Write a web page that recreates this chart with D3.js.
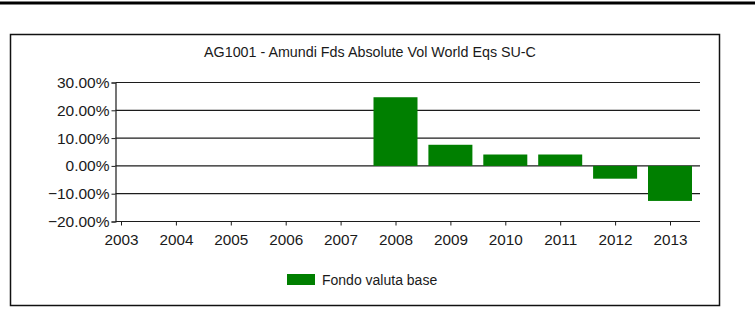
<!DOCTYPE html>
<html>
<head>
<meta charset="utf-8">
<script src="https://cdn.jsdelivr.net/npm/d3@7"></script>
<style>
  html, body { margin: 0; padding: 0; background: #fff; }
  svg { display: block; }
  text { font-family: "Liberation Sans", Arial, sans-serif; fill: #1a1a1a; }
</style>
</head>
<body>
<svg id="chart" width="755" height="332"></svg>
<script>
const title = "AG1001 - Amundi Fds Absolute Vol World Eqs SU-C";
const years = ["2003","2004","2005","2006","2007","2008","2009","2010","2011","2012","2013"];
const fundReturns = [null, null, null, null, null, 24.7, 7.6, 4.1, 4.1, -4.6, -12.6];
const yTicks = [30, 20, 10, 0, -10, -20];
const legendLabel = "Fondo valuta base";

const svg = d3.select("#chart");

// top rule of the page
svg.append("line").attr("x1", 0).attr("x2", 755).attr("y1", 3).attr("y2", 3)
  .attr("stroke", "#000").attr("stroke-width", 3);

// chart frame
svg.append("rect").attr("x", 10.5).attr("y", 34.5).attr("width", 709).attr("height", 271)
  .attr("fill", "#fff").attr("stroke", "#111").attr("stroke-width", 1.5);

svg.append("text").attr("x", 370).attr("y", 57).attr("text-anchor", "middle")
  .attr("font-size", 14.3).text(title);

const y = d3.scaleLinear().domain([-20, 30]).range([221.5, 82.5]);
const x = d3.scalePoint().domain(years).range([121, 670]);
const plotLeft = 115.5, plotRight = 700;

// gridlines
svg.append("g").selectAll("line").data(yTicks).join("line")
  .attr("x1", plotLeft).attr("x2", plotRight)
  .attr("y1", d => y(d)).attr("y2", d => y(d))
  .attr("stroke", "#1c1c1c").attr("stroke-width", 1.2);

// y axis
const yAxis = d3.axisLeft(y).tickValues(yTicks).tickSize(4).tickPadding(2)
  .tickFormat(d => d3.format(".2f")(d) + "%");
const gy = svg.append("g").attr("transform", `translate(${plotLeft},0)`).call(yAxis);
gy.select(".domain").attr("stroke", "#1c1c1c").attr("stroke-width", 1.2);
gy.selectAll(".tick line").attr("stroke", "#1c1c1c");
gy.selectAll(".tick text").attr("font-size", 15.5).attr("font-family", "Liberation Sans, Arial, sans-serif").attr("fill", "#1a1a1a");

// x axis
const xAxis = d3.axisBottom(x).tickSize(4).tickPadding(9).tickSizeOuter(0);
const gx = svg.append("g").attr("transform", `translate(0,${y(-20)})`).call(xAxis);
gx.select(".domain").remove();
gx.selectAll(".tick line").attr("stroke", "#1c1c1c");
gx.selectAll(".tick text").attr("font-size", 15.3).attr("font-family", "Liberation Sans, Arial, sans-serif").attr("fill", "#1a1a1a");

// bars
const barW = 44;
svg.append("g").selectAll("rect")
  .data(years.map((yr, i) => ({yr, v: fundReturns[i]})).filter(d => d.v !== null))
  .join("rect")
  .attr("x", d => x(d.yr) - barW / 2)
  .attr("width", barW)
  .attr("y", d => y(Math.max(0, d.v)))
  .attr("height", d => Math.abs(y(d.v) - y(0)))
  .attr("fill", "#007f00");

// legend
svg.append("rect").attr("x", 287).attr("y", 274).attr("width", 28).attr("height", 11).attr("fill", "#007f00");
svg.append("text").attr("x", 322).attr("y", 285).attr("font-size", 14).text(legendLabel);
</script>
</body>
</html>
